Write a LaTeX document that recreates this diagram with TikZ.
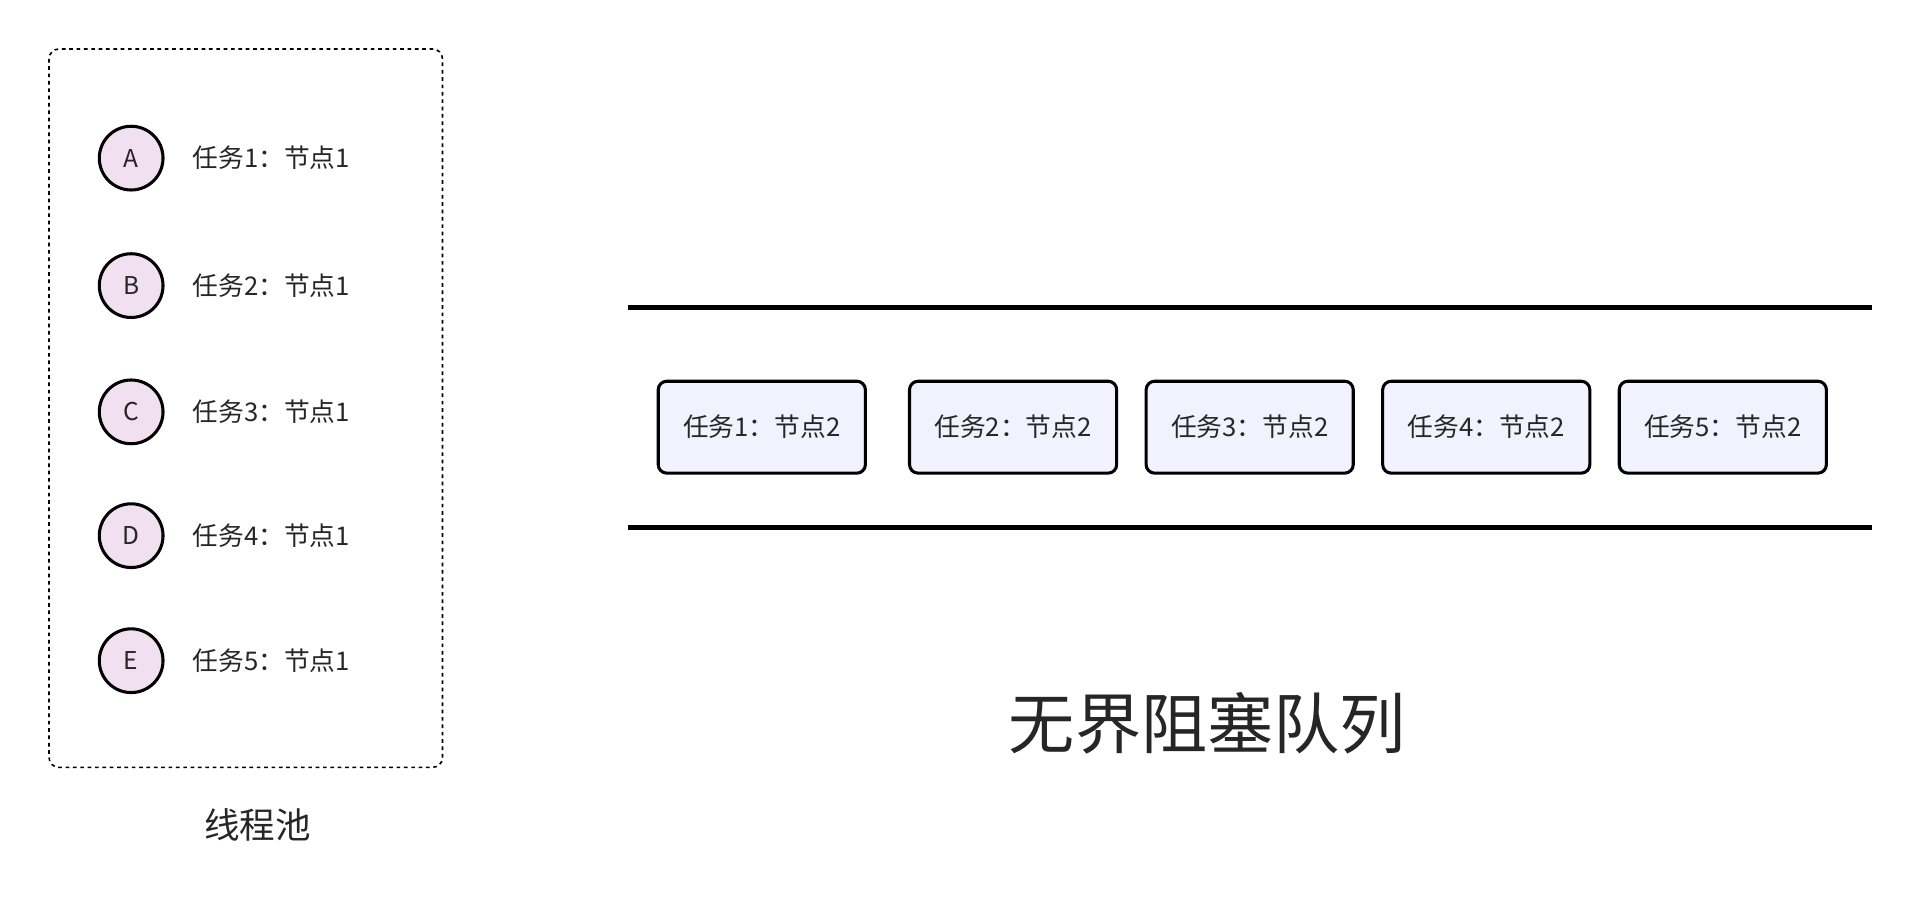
\documentclass[tikz,border=0pt]{standalone}
\usepackage{fontspec}
\setmainfont{Noto Sans CJK SC}
\begin{document}
\begin{tikzpicture}[x=1pt,y=-1pt,
  worker/.style={circle,draw=black,line width=2.5pt,fill=violet!12,minimum size=52pt,inner sep=0pt,font=\fontsize{20}{24}\selectfont,text=black!85},
  lbl/.style={anchor=west,inner sep=0pt,font=\fontsize{21}{25}\selectfont,text=black!85},
  task/.style={draw=black,line width=2.5pt,rounded corners=7pt,fill=blue!5,minimum width=169pt,minimum height=75pt,inner sep=0pt,font=\fontsize{21}{25}\selectfont,text=black!85},
  qline/.style={line width=4pt}]
\useasboundingbox (0,0) rectangle (1568,734);
\draw[dashed,line width=1.3pt,rounded corners=8pt] (40,40) rectangle (361,626);
\foreach \n/\l/\y [count=\i] in {a/A/129,b/B/233,c/C/336,d/D/437,e/E/539}{
  \node[worker] (\n) at (107,\y) {\l};
  \node[lbl] (t\n) at (157,\y) {任务\i：节点1};
}
\node[font=\fontsize{29}{34}\selectfont,text=black!85] (pool) at (210,673) {线程池};
\coordinate (l1) at (512,251); \coordinate (r1) at (1527,251);
\coordinate (l2) at (512,430); \coordinate (r2) at (1527,430);
\draw[qline] (l1) -- (r1);
\draw[qline] (l2) -- (r2);
\foreach \x [count=\i] in {621.5,826.5,1019.5,1212.5,1405.5}{
  \node[task] (q\i) at (\x,348.5) {任务\i：节点2};
}
\node[font=\fontsize{54}{60}\selectfont,text=black!85] (title) at (985,590) {无界阻塞队列};
\end{tikzpicture}
\end{document}
